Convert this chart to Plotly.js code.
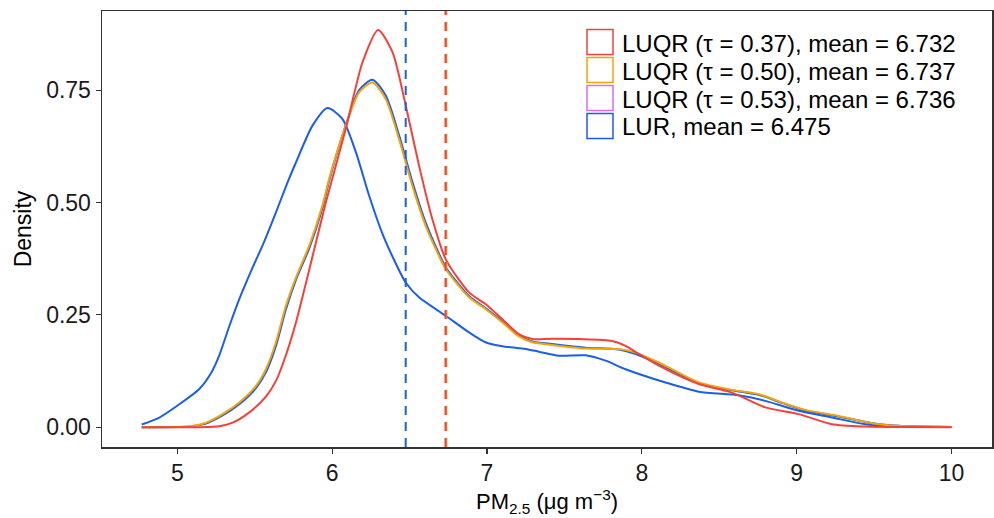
<!DOCTYPE html>
<html>
<head>
<meta charset="utf-8">
<script src="https://cdn.plot.ly/plotly-3.0.1.min.js"></script>
<style>html,body{margin:0;padding:0;background:#fff;}#chart{width:994px;height:518px;}</style>
</head>
<body>
<div id="chart"></div>
<script>
// ---- data ----
const seriesNames = ["LUQR (\u03c4 = 0.37), mean = 6.732", "LUQR (\u03c4 = 0.50), mean = 6.737", "LUQR (\u03c4 = 0.53), mean = 6.736", "LUR, mean = 6.475"];
const means = [6.732, 6.737, 6.736, 6.475];

const xRed = [4.77, 5.0, 5.2, 5.27, 5.357, 5.465, 5.572, 5.637, 5.70, 5.766, 5.83, 5.895, 5.959, 6.088, 6.196, 6.297, 6.389, 6.475, 6.561, 6.647, 6.733, 6.884, 6.99, 7.10, 7.206, 7.292, 7.42, 7.594, 7.808, 7.895, 7.98, 8.11, 8.368, 8.583, 8.798, 9.013, 9.228, 9.443, 9.7, 10.0];
const yRed = [0.0, 0.0, 0.0005, 0.002, 0.010, 0.033, 0.068, 0.103, 0.159, 0.233, 0.32, 0.411, 0.50, 0.664, 0.812, 0.884, 0.835, 0.716, 0.582, 0.463, 0.374, 0.30, 0.274, 0.24, 0.207, 0.196, 0.197, 0.196, 0.192, 0.181, 0.163, 0.137, 0.096, 0.077, 0.044, 0.029, 0.0067, 0.0015, 0.0003, 0.0];

const xOrange = [4.77, 5.0, 5.08, 5.185, 5.292, 5.40, 5.508, 5.572, 5.637, 5.701, 5.766, 5.852, 5.937, 5.98, 6.088, 6.174, 6.26, 6.346, 6.432, 6.518, 6.604, 6.69, 6.733, 6.884, 6.99, 7.10, 7.206, 7.292, 7.42, 7.637, 7.85, 7.96, 8.11, 8.368, 8.583, 8.755, 8.905, 9.056, 9.271, 9.486, 9.658, 10.0];
const yOrange = [0.0, 0.0005, 0.002, 0.010, 0.029, 0.055, 0.092, 0.129, 0.189, 0.270, 0.333, 0.404, 0.493, 0.552, 0.671, 0.745, 0.767, 0.730, 0.641, 0.537, 0.448, 0.381, 0.352, 0.289, 0.263, 0.233, 0.202, 0.189, 0.183, 0.175, 0.174, 0.166, 0.144, 0.0995, 0.083, 0.0735, 0.055, 0.0385, 0.025, 0.009, 0.003, 0.0005];

const xTau53 = [4.77, 5.0, 5.08, 5.185, 5.292, 5.40, 5.508, 5.572, 5.637, 5.701, 5.766, 5.852, 5.937, 5.98, 6.088, 6.174, 6.26, 6.346, 6.432, 6.518, 6.604, 6.69, 6.733, 6.884, 6.99, 7.10, 7.206, 7.292, 7.42, 7.637, 7.85, 7.96, 8.11, 8.368, 8.583, 8.755, 8.905, 9.056, 9.271, 9.486, 9.658, 10.0];
const yTau53 = [0.0, 0.0004, 0.0015, 0.008, 0.026, 0.051, 0.087, 0.122, 0.181, 0.262, 0.328, 0.398, 0.487, 0.548, 0.672, 0.750, 0.773, 0.738, 0.650, 0.546, 0.455, 0.386, 0.356, 0.292, 0.265, 0.235, 0.204, 0.191, 0.185, 0.177, 0.173, 0.163, 0.141, 0.098, 0.082, 0.072, 0.054, 0.037, 0.024, 0.009, 0.003, 0.0005];

const xLUR = [4.77, 4.884, 5.013, 5.142, 5.217, 5.271, 5.335, 5.40, 5.486, 5.561, 5.637, 5.712, 5.766, 5.873, 5.97, 6.066, 6.153, 6.239, 6.325, 6.389, 6.475, 6.561, 6.733, 6.884, 6.99, 7.10, 7.25, 7.335, 7.465, 7.637, 7.766, 7.895, 8.153, 8.368, 8.626, 8.798, 9.013, 9.228, 9.443, 9.658, 10.0];
const yLUR = [0.006, 0.0215, 0.051, 0.085, 0.120, 0.160, 0.224, 0.285, 0.355, 0.413, 0.478, 0.545, 0.589, 0.671, 0.710, 0.686, 0.612, 0.515, 0.43, 0.38, 0.322, 0.289, 0.248, 0.211, 0.189, 0.180, 0.174, 0.168, 0.159, 0.160, 0.148, 0.129, 0.0995, 0.079, 0.0713, 0.0586, 0.0364, 0.0215, 0.0067, 0.0015, 0.0005];

const xTicks = [5, 6, 7, 8, 9, 10];
const yTicks = [0, 0.25, 0.5, 0.75];
const yTickLabels = ["0.00", "0.25", "0.50", "0.75"];

// ---- styles ----
const RED = "#F5403A", ORANGE = "#F0A50A", MAGENTA = "#DD6BF2", BLUE = "#1A5FE8";
const legendColors = [RED, ORANGE, MAGENTA, BLUE];
const FONT = "Liberation Sans, Arial, Helvetica, sans-serif";

function curve(x, y, color) {
  return {x: x, y: y, type: "scatter", mode: "lines", showlegend: false, hoverinfo: "skip",
          line: {color: color, width: 2, shape: "spline", smoothing: 0.7}};
}
const traces = [
  curve(xLUR, yLUR, BLUE),
  curve(xTau53, yTau53, BLUE),
  curve(xOrange, yOrange, ORANGE),
  curve(xRed, yRed, RED)
];

// plot-area geometry (pixels)
const L = 102, R = 2, T = 11, B = 71, W = 994 - L - R, H = 518 - T - B;
const px2x = p => (p - L) / W;
const px2y = p => 1 - (p - T) / H;

const shapes = [];
// mean lines: magenta, orange (underneath), then blue, red
[[2, MAGENTA], [1, ORANGE], [3, BLUE], [0, RED]].forEach(([i, c]) => {
  shapes.push({type: "line", xref: "x", yref: "paper", x0: means[i], x1: means[i], y0: 0, y1: 1,
               line: {color: c, width: 2, dash: "9px,7px"}});
});
// custom legend
const annotations = [];
seriesNames.forEach((name, i) => {
  const cy = 42 + i * 28;
  shapes.push({type: "rect", xref: "paper", yref: "paper",
               x0: px2x(587), x1: px2x(613), y0: px2y(cy - 12.5), y1: px2y(cy + 12.5),
               line: {color: legendColors[i], width: 1.5}, fillcolor: "rgba(255,255,255,0)"});
  annotations.push({xref: "paper", yref: "paper", x: px2x(620), y: px2y(cy + 1), xanchor: "left", yanchor: "middle",
                    text: name, showarrow: false, font: {family: FONT, size: 24, color: "#000"}});
});

const layout = {
  width: 994, height: 518,
  margin: {l: L, r: R, t: T, b: B},
  paper_bgcolor: "#fff", plot_bgcolor: "#fff",
  font: {family: FONT, color: "#000"},
  showlegend: false,
  xaxis: {range: [4.5135, 10.2615], tickvals: xTicks, ticktext: xTicks.map(String),
          showgrid: false, zeroline: false, showline: true, mirror: true, linecolor: "#333", linewidth: 1.5,
          ticks: "outside", ticklen: 5, tickwidth: 1.2, tickcolor: "#333",
          tickfont: {family: FONT, size: 23, color: "#1a1a1a"},
          title: {text: "PM<sub>2.5</sub> (\u03bcg m<sup>\u22123</sup>)", font: {family: FONT, size: 22, color: "#000"}, standoff: 6}},
  yaxis: {range: [-0.0441, 0.9261], tickvals: yTicks, ticktext: yTickLabels,
          showgrid: false, zeroline: false, showline: true, mirror: true, linecolor: "#333", linewidth: 1.5,
          ticks: "outside", ticklen: 5, tickwidth: 1.2, tickcolor: "#333",
          tickfont: {family: FONT, size: 23, color: "#1a1a1a"},
          title: {text: "Density", font: {family: FONT, size: 23, color: "#000"}, standoff: 8}},
  shapes: shapes,
  annotations: annotations
};

Plotly.newPlot("chart", traces, layout, {displayModeBar: false, staticPlot: true});
</script>
</body>
</html>
